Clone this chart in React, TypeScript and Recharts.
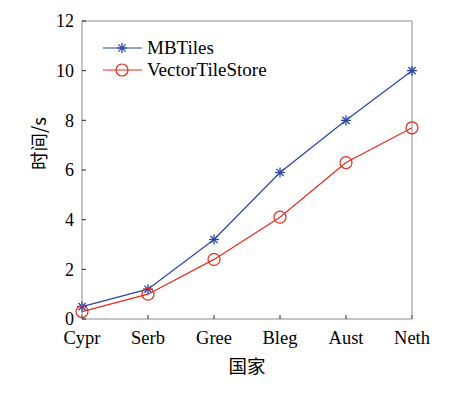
import { LineChart, Line, XAxis, YAxis, Legend } from 'recharts';

const countries = ['Cypr', 'Serb', 'Gree', 'Bleg', 'Aust', 'Neth'];
const mbTiles = [0.5, 1.2, 3.2, 5.9, 8.0, 10.0];
const vectorTileStore = [0.3, 1.0, 2.4, 4.1, 6.3, 7.7];
const yTicks = [0, 2, 4, 6, 8, 10, 12];

const data = countries.map((name, i) => ({
  name,
  mbTiles: mbTiles[i],
  vectorTileStore: vectorTileStore[i],
}));

const BLUE = '#2b46a6';
const RED = '#ea2a1c';
const FONT = "'Liberation Serif', 'Times New Roman', serif";
const CJK = "'Noto Sans CJK SC', sans-serif";

const Star = (props: any) => {
  const { cx, cy, stroke, size = 5 } = props;
  if (cx == null || cy == null) return null;
  const d = size * 0.72;
  return (
    <g stroke={stroke} strokeWidth={1.3}>
      <line x1={cx - size} y1={cy} x2={cx + size} y2={cy} />
      <line x1={cx} y1={cy - size} x2={cx} y2={cy + size} />
      <line x1={cx - d} y1={cy - d} x2={cx + d} y2={cy + d} />
      <line x1={cx - d} y1={cy + d} x2={cx + d} y2={cy - d} />
    </g>
  );
};

const Ring = (props: any) => {
  const { cx, cy, stroke } = props;
  if (cx == null || cy == null) return null;
  return <circle cx={cx} cy={cy} r={6} fill="none" stroke={stroke} strokeWidth={1.2} />;
};

const renderLegend = () => (
  <svg width={220} height={46}>
    <g style={{ fontFamily: FONT, fontSize: 19 }} fill="#000">
      <line x1={3} y1={10} x2={42} y2={10} stroke={BLUE} strokeWidth={1.2} />
      <Star cx={22} cy={10} stroke={BLUE} />
      <text x={47} y={16}>MBTiles</text>
      <line x1={3} y1={32} x2={42} y2={32} stroke={RED} strokeWidth={1.2} />
      <Ring cx={22} cy={32} stroke={RED} />
      <text x={47} y={38}>VectorTileStore</text>
    </g>
  </svg>
);

export default function App() {
  return (
    <div style={{ position: 'absolute', left: 0, top: 0, width: 458, height: 398, background: '#fff', fontFamily: FONT }}>
      <LineChart
        width={458}
        height={398}
        data={data}
        margin={{ top: 20, right: 45, bottom: 49, left: 42 }}
        style={{ fontFamily: FONT }}
      >
        <XAxis
          xAxisId="bottom"
          dataKey="name"
          height={30}
          stroke="#8c8c8c"
          tickSize={-4}
          tickMargin={16}
          tickLine={{ stroke: '#222' }}
          tick={{ fill: '#000', fontSize: 18.5, style: { fontFamily: FONT } }}
          interval={0}
          label={{ value: '国家', position: 'insideBottom', offset: -24, fill: '#000', fontSize: 18.5, style: { fontFamily: CJK } }}
        />
        <XAxis
          xAxisId="top"
          dataKey="name"
          orientation="top"
          height={1}
          stroke="#8c8c8c"
          tickSize={-4}
          tickLine={{ stroke: '#222' }}
          tick={false}
          interval={0}
        />
        <YAxis
          yAxisId="left"
          width={40}
          domain={[0, 12]}
          ticks={yTicks}
          stroke="#8c8c8c"
          tickSize={-4}
          tickMargin={12}
          tickLine={{ stroke: '#222' }}
          tick={{ fill: '#000', fontSize: 18, style: { fontFamily: FONT } }}
          label={{ value: '时间/s', angle: -90, position: 'insideLeft', offset: 0, dx: -3, fill: '#000', fontSize: 18.5, style: { fontFamily: CJK } }}
        />
        <YAxis
          yAxisId="right"
          orientation="right"
          width={1}
          domain={[0, 12]}
          ticks={yTicks}
          stroke="#8c8c8c"
          tickSize={-4}
          tickLine={{ stroke: '#222' }}
          tick={false}
        />
        <Legend
          content={renderLegend}
          layout="vertical"
          align="center"
          verticalAlign="middle"
          wrapperStyle={{ left: 100, top: 38, width: 220, height: 46 }}
        />
        <Line
          xAxisId="bottom"
          yAxisId="left"
          dataKey="mbTiles"
          name="MBTiles"
          stroke={BLUE}
          strokeWidth={1.2}
          dot={<Star stroke={BLUE} />}
          activeDot={false}
          isAnimationActive={false}
        />
        <Line
          xAxisId="bottom"
          yAxisId="left"
          dataKey="vectorTileStore"
          name="VectorTileStore"
          stroke={RED}
          strokeWidth={1.2}
          dot={<Ring stroke={RED} />}
          activeDot={false}
          isAnimationActive={false}
        />
      </LineChart>
    </div>
  );
}
